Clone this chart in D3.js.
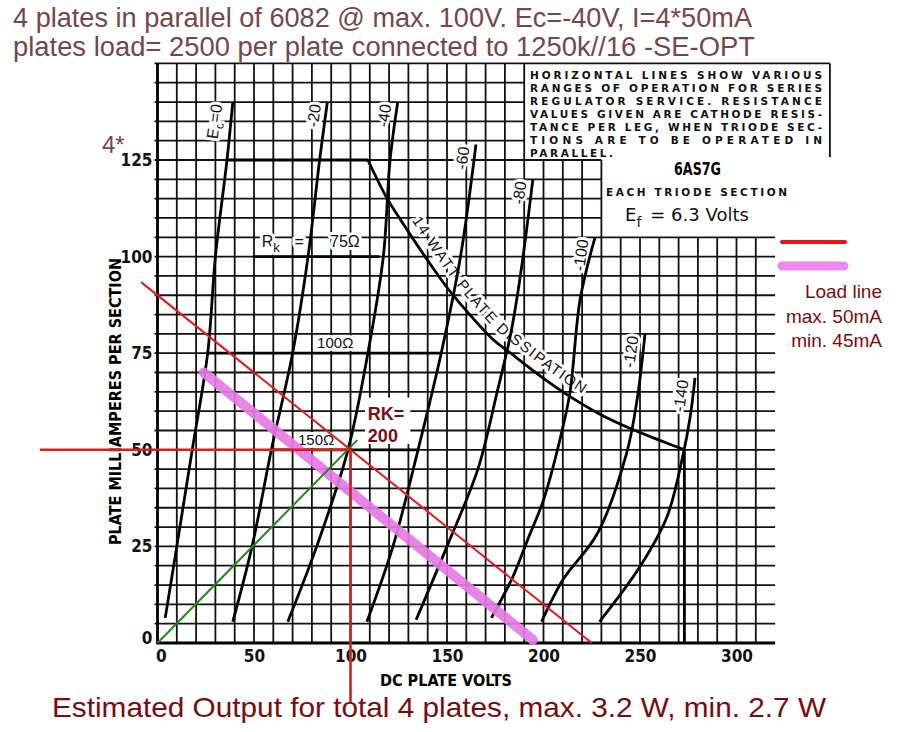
<!DOCTYPE html>
<html>
<head>
<meta charset="utf-8">
<script src="https://cdn.jsdelivr.net/npm/d3@7"></script>
<style>
    body { margin: 0; background: #fff; }
    svg { display: block; }
    .grid line { stroke: #111; stroke-width: 1.8; }
    .frame { stroke: #000; stroke-width: 2.8; }
    .curve { fill: none; stroke: #000; stroke-width: 2.8; }
    .chart-font { font-family: "Liberation Sans Narrow", "DejaVu Sans Condensed", "Liberation Sans", sans-serif; }
    .halo { paint-order: stroke; stroke: #fff; stroke-width: 6px; stroke-linejoin: round; }
    .note { font-family: "DejaVu Sans", sans-serif; font-weight: bold; font-size: 10.5px; fill: #111; }
    .brown { font-family: "Liberation Sans", Arial, sans-serif; fill: #784646; }
    .darkred { font-family: "Liberation Sans", Arial, sans-serif; fill: #7a0c0c; }
</style>
</head>
<body>
<svg id="chart" width="898" height="732"></svg>
<script>
// Texts
const titleLines = [
    "4 plates in parallel of 6082 @ max. 100V. Ec=-40V, I=4*50mA",
    "plates load= 2500 per plate connected to  1250k//16 -SE-OPT"
];
const footerText = "Estimated Output for total 4 plates, max. 3.2 W, min. 2.7 W";
const noteLines = [
    "HORIZONTAL LINES SHOW VARIOUS",
    "RANGES OF OPERATION FOR SERIES",
    "REGULATOR SERVICE. RESISTANCE",
    "VALUES GIVEN ARE CATHODE RESIS-",
    "TANCE PER LEG, WHEN TRIODE SEC-",
    "TIONS ARE TO BE OPERATED IN",
    "PARALLEL."
];
const legendLines = ["Load line", "max. 50mA", "min. 45mA"];

// Axes
const xTicks = [0, 50, 100, 150, 200, 250, 300];
const yTicks = [0, 25, 50, 75, 100, 125];

// Plate curves (volts, mA)
const gridCurves = [
    { label: "Ec=0", pts: [[4, 6.5], [10, 25], [18, 50], [26, 75], [30, 100], [36, 125], [39, 140]] },
    { label: "-20", pts: [[39, 5.5], [49, 25], [59, 50], [70, 75], [78, 100], [84, 125], [88, 140]] },
    { label: "-40", pts: [[67.5, 5.5], [82.5, 25], [98.7, 50], [109, 75], [117, 100], [120.5, 125], [124.5, 140]] },
    { label: "-60", pts: [[108.5, 5.5], [122, 25], [135, 50], [147, 75], [157, 100], [165, 129]] },
    { label: "-80", pts: [[134, 6], [150, 25], [166, 45], [176, 65], [183, 80], [188, 95], [194.5, 120]] },
    { label: "-100", pts: [[173, 6.5], [184, 17], [192, 27], [200, 37], [208.5, 52.6], [213.7, 64.8], [219, 89], [226.7, 105]] },
    { label: "-120", pts: [[199, 5.5], [210, 16.3], [228, 28.4], [243, 49], [248.5, 63], [252.6, 80]] },
    { label: "-140", pts: [[229, 5.5], [250, 19.8], [264, 32.7], [272, 48], [276, 58.5], [278.5, 68.6]] }
];

const dissipation = [[109, 125], [119, 115], [126, 109.5], [140, 99], [150, 92], [160, 86], [174, 78.5],
    [183, 75], [200, 68.5], [214, 63.7], [230, 59], [245, 55.5], [260, 52.5], [273, 50]];
const dissipationDrop = [[273, 50], [273, 0]];

// Regulator ranges (mA, from V, to V)
const rkLines = [
    { i: 125, v0: 36, v1: 109 },
    { i: 100, v0: 49.5, v1: 115 },
    { i: 75, v0: 26, v1: 147 },
    { i: 50, v0: 59, v1: 135 }
];

// Added lines
const loadLineMax = [[-8.5, 93.4], [225, 0]];
const loadLineMin = [[24, 70], [194.5, 0.8]];
const biasLine = [[0, 0], [103.5, 52.5]];
const opHorizontal = [[-61, 50], [100, 50]];
const opVertical = [[100, 50], [100, -15.5]];

const svg = d3.select('#chart');

const x = d3.scaleLinear().domain([0, 320]).range([157.5, 775.1]);
const y = d3.scaleLinear().domain([0, 150]).range([643, 63.4]);

// Title
svg.selectAll('.title')
    .data(titleLines)
    .enter().append('text')
    .attr('class', 'title brown')
    .attr('x', 13)
    .attr('y', (d, i) => 27 + i * 29)
    .attr('font-size', 27)
    .attr('textLength', (d, i) => i === 0 ? 739 : 742)
    .attr('lengthAdjust', 'spacingAndGlyphs')
    .text(d => d);

svg.append('text')
    .attr('class', 'brown')
    .attr('x', 102).attr('y', 153)
    .attr('font-size', 24)
    .text('4*');

// Grid (sheet has cut-outs for the note box)
const vTop = v => v <= 190 ? 150 : v <= 230 ? 125 : 105;
const hRight = i => i === 150 ? 348.4 : i <= 105 ? 320 : i <= 125 ? 230 : 190;

const grid = svg.append('g').attr('class', 'grid');
grid.selectAll('.v')
    .data(d3.range(10, 320, 10))
    .enter().append('line')
    .attr('x1', d => x(d)).attr('x2', d => x(d))
    .attr('y1', y(0)).attr('y2', d => y(vTop(d)));
grid.selectAll('.h')
    .data(d3.range(5, 151, 5))
    .enter().append('line')
    .attr('x1', x(0) - 3).attr('x2', d => x(hRight(d)))
    .attr('y1', d => y(d)).attr('y2', d => y(d));
grid.append('line')
    .attr('x1', x(348.4)).attr('x2', x(348.4))
    .attr('y1', y(150)).attr('y2', y(125.8));

// Axis frame
svg.append('line').attr('class', 'frame')
    .attr('x1', x(0)).attr('x2', x(0)).attr('y1', y(0) + 1).attr('y2', y(150));
svg.append('line').attr('class', 'frame')
    .attr('x1', x(0) - 1).attr('x2', x(320)).attr('y1', y(0)).attr('y2', y(0));

// Tick labels
const xAxis = svg.append('g')
    .attr('class', 'x-axis chart-font')
    .attr('transform', `translate(0,${y(0)})`)
    .call(d3.axisBottom(x).tickValues(xTicks).tickSize(0).tickPadding(7));
const yAxis = svg.append('g')
    .attr('class', 'y-axis chart-font')
    .attr('transform', `translate(${x(0)},0)`)
    .call(d3.axisLeft(y).tickValues(yTicks).tickSize(0).tickPadding(5));
svg.selectAll('.x-axis .domain, .y-axis .domain').remove();
svg.selectAll('.x-axis text, .y-axis text')
    .attr('font-size', 17)
    .attr('font-weight', 'bold')
    .attr('font-family', '"Liberation Sans Narrow", "DejaVu Sans Condensed", "Liberation Sans", sans-serif')
    .attr('fill', '#111');
yAxis.selectAll('.tick').filter(d => d === 0).select('text').attr('dy', '0.05em');
xAxis.selectAll('.tick').filter(d => d === 0).select('text').attr('dx', '0.2em');

// Axis titles
svg.append('text')
    .attr('class', 'chart-font')
    .attr('x', 380).attr('y', 686)
    .attr('font-size', 16).attr('font-weight', 'bold')
    .attr('textLength', 132).attr('lengthAdjust', 'spacingAndGlyphs')
    .text('DC PLATE VOLTS');

svg.append('text')
    .attr('class', 'chart-font')
    .attr('transform', 'translate(121,545) rotate(-90)')
    .attr('font-size', 16).attr('font-weight', 'bold')
    .attr('textLength', 287).attr('lengthAdjust', 'spacingAndGlyphs')
    .text('PLATE MILLIAMPERES PER SECTION');

// Note box texts
svg.selectAll('.note')
    .data(noteLines)
    .enter().append('text')
    .attr('class', 'note')
    .attr('x', 530)
    .attr('y', (d, i) => 79 + i * 13)
    .attr('textLength', (d, i) => i === noteLines.length - 1 ? 83 : 292)
    .attr('lengthAdjust', 'spacing')
    .text(d => d);

svg.append('text')
    .attr('class', 'chart-font')
    .attr('x', 674).attr('y', 175)
    .attr('font-size', 17).attr('font-weight', 'bold')
    .attr('textLength', 47).attr('lengthAdjust', 'spacingAndGlyphs')
    .text('6AS7G');

svg.append('text')
    .attr('class', 'note')
    .attr('x', 606).attr('y', 196)
    .attr('font-size', 11).attr('font-weight', 'normal')
    .attr('textLength', 181).attr('lengthAdjust', 'spacing')
    .text('EACH TRIODE SECTION');

const ef = svg.append('text')
    .attr('x', 625).attr('y', 221)
    .attr('font-family', '"DejaVu Sans", sans-serif')
    .attr('font-size', 18)
    .attr('fill', '#111');
ef.append('tspan').text('E');
ef.append('tspan').attr('dy', 6).attr('font-size', 14).text('f');
ef.append('tspan').attr('dy', -6).attr('dx', 9).text('=  6.3 Volts');

// Line generators
const line = d3.line()
    .x(d => x(d[0]))
    .y(d => y(d[1]));
const smooth = d3.line()
    .x(d => x(d[0]))
    .y(d => y(d[1]))
    .curve(d3.curveCatmullRom);

// Curve labels (drawn under the curves so the white halo only clears grid)
gridCurves.forEach(c => {
    const top = c.pts[c.pts.length - 1];
    const isZero = c.label === 'Ec=0';
    const t = svg.append('text')
        .attr('class', 'halo')
        .attr('transform', `translate(${x(top[0]) - (isZero ? 16 : 12)},${y(top[1]) + 2}) rotate(-82)`)
        .attr('text-anchor', 'end')
        .attr('dy', '0.35em')
        .attr('font-family', '"Liberation Sans", sans-serif')
        .attr('font-size', 16)
        .attr('fill', '#111');
    if (isZero) {
        t.append('tspan').text('E');
        t.append('tspan').attr('dy', 4).attr('font-size', 12).text('c');
        t.append('tspan').attr('dy', -4).text('=0');
    } else {
        t.text(c.label);
    }
});

// Dissipation label on a path offset to the upper side of the curve
const dissPx = dissipation.map(d => [x(d[0]), y(d[1])]);
const dissOffset = dissPx.map((p, i) => {
    const a = dissPx[Math.max(0, i - 1)];
    const b = dissPx[Math.min(dissPx.length - 1, i + 1)];
    const len = Math.hypot(b[0] - a[0], b[1] - a[1]);
    const tx = (b[0] - a[0]) / len, ty = (b[1] - a[1]) / len;
    return [p[0] + ty * 9, p[1] - tx * 9];
});
svg.append('path')
    .attr('id', 'diss-label')
    .attr('fill', 'none')
    .attr('d', d3.line().curve(d3.curveCatmullRom)(dissOffset));
svg.append('text')
    .attr('class', 'halo')
    .attr('font-family', '"Liberation Sans", sans-serif')
    .attr('font-size', 15)
    .attr('fill', '#111')
    .append('textPath')
    .attr('href', '#diss-label')
    .attr('startOffset', 74)
    .attr('textLength', 246)
    .attr('lengthAdjust', 'spacing')
    .text('14 WATT PLATE DISSIPATION');

// Range labels
const rk = svg.append('text')
    .attr('class', 'halo')
    .attr('x', x(54)).attr('y', y(102.5))
    .attr('font-family', '"Liberation Sans", sans-serif')
    .attr('font-size', 16).attr('fill', '#111');
rk.append('tspan').text('R');
rk.append('tspan').attr('dy', 5).attr('font-size', 13).text('k');
rk.append('tspan').attr('x', x(71)).attr('dy', -5).text('=');
rk.append('tspan').attr('x', x(89.4)).text('75Ω');

svg.append('text')
    .attr('class', 'halo')
    .attr('x', x(82.7)).attr('y', y(76.3))
    .attr('font-family', '"Liberation Sans", sans-serif')
    .attr('font-size', 15).attr('fill', '#111')
    .text('100Ω');

svg.append('text')
    .attr('class', 'halo')
    .attr('x', x(72.8)).attr('y', y(51.2))
    .attr('font-family', '"Liberation Sans", sans-serif')
    .attr('font-size', 15).attr('fill', '#111')
    .text('150Ω');

// Curves
svg.selectAll('.curve-ec')
    .data(gridCurves)
    .enter().append('path')
    .attr('class', 'curve')
    .attr('d', d => smooth(d.pts));

rkLines.forEach(r => {
    svg.append('line')
        .attr('class', 'curve')
        .attr('stroke-width', r.i >= 100 ? 3 : 2)
        .attr('x1', x(r.v0)).attr('x2', x(r.v1))
        .attr('y1', y(r.i)).attr('y2', y(r.i));
});

svg.append('path')
    .attr('class', 'curve')
    .attr('d', smooth(dissipation));
svg.append('path')
    .attr('class', 'curve')
    .attr('stroke-width', 3.2)
    .attr('d', line(dissipationDrop));

// Load lines
svg.append('path')
    .attr('d', line(loadLineMin))
    .attr('stroke', '#e678e6')
    .attr('stroke-width', 10)
    .attr('stroke-linecap', 'round')
    .attr('opacity', 0.92)
    .attr('fill', 'none');

svg.append('path')
    .attr('d', line(biasLine))
    .attr('stroke', '#1e8a1e')
    .attr('stroke-width', 2)
    .attr('fill', 'none');

[loadLineMax, opHorizontal, opVertical].forEach((seg, i) => {
    svg.append('path')
        .attr('d', line(seg))
        .attr('stroke', i === 2 ? '#c82424' : '#e01b1b')
        .attr('stroke-width', i === 0 ? 2 : 2.6)
        .attr('fill', 'none');
});

// RK = 200 note
svg.append('rect')
    .attr('x', x(107.5)).attr('y', y(63.5))
    .attr('width', x(131) - x(107.5)).attr('height', y(51.5) - y(63.5))
    .attr('fill', '#fff');
svg.selectAll('.rk200')
    .data(['RK=', '200'])
    .enter().append('text')
    .attr('class', 'darkred')
    .attr('x', x(109))
    .attr('y', (d, i) => y(57.7) + i * 22)
    .attr('font-size', 18)
    .attr('font-weight', 'bold')
    .attr('fill', '#8b1a1a')
    .text(d => d);

// Legend
const legend = svg.append('g');
legend.append('line')
    .attr('x1', 782).attr('x2', 845).attr('y1', 242).attr('y2', 242)
    .attr('stroke', '#e61414').attr('stroke-width', 4).attr('stroke-linecap', 'round');
legend.append('line')
    .attr('x1', 782).attr('x2', 844).attr('y1', 266).attr('y2', 266)
    .attr('stroke', '#ee88ee').attr('stroke-width', 9).attr('stroke-linecap', 'round');
legend.selectAll('.leg')
    .data(legendLines)
    .enter().append('text')
    .attr('class', 'darkred')
    .attr('x', 882)
    .attr('y', (d, i) => 298 + i * 24.5)
    .attr('text-anchor', 'end')
    .attr('font-size', 19)
    .text(d => d);

// Footer
svg.append('text')
    .attr('class', 'darkred')
    .attr('x', 52).attr('y', 717)
    .attr('font-size', 28)
    .attr('textLength', 774)
    .attr('lengthAdjust', 'spacingAndGlyphs')
    .text(footerText);
</script>
</body>
</html>
